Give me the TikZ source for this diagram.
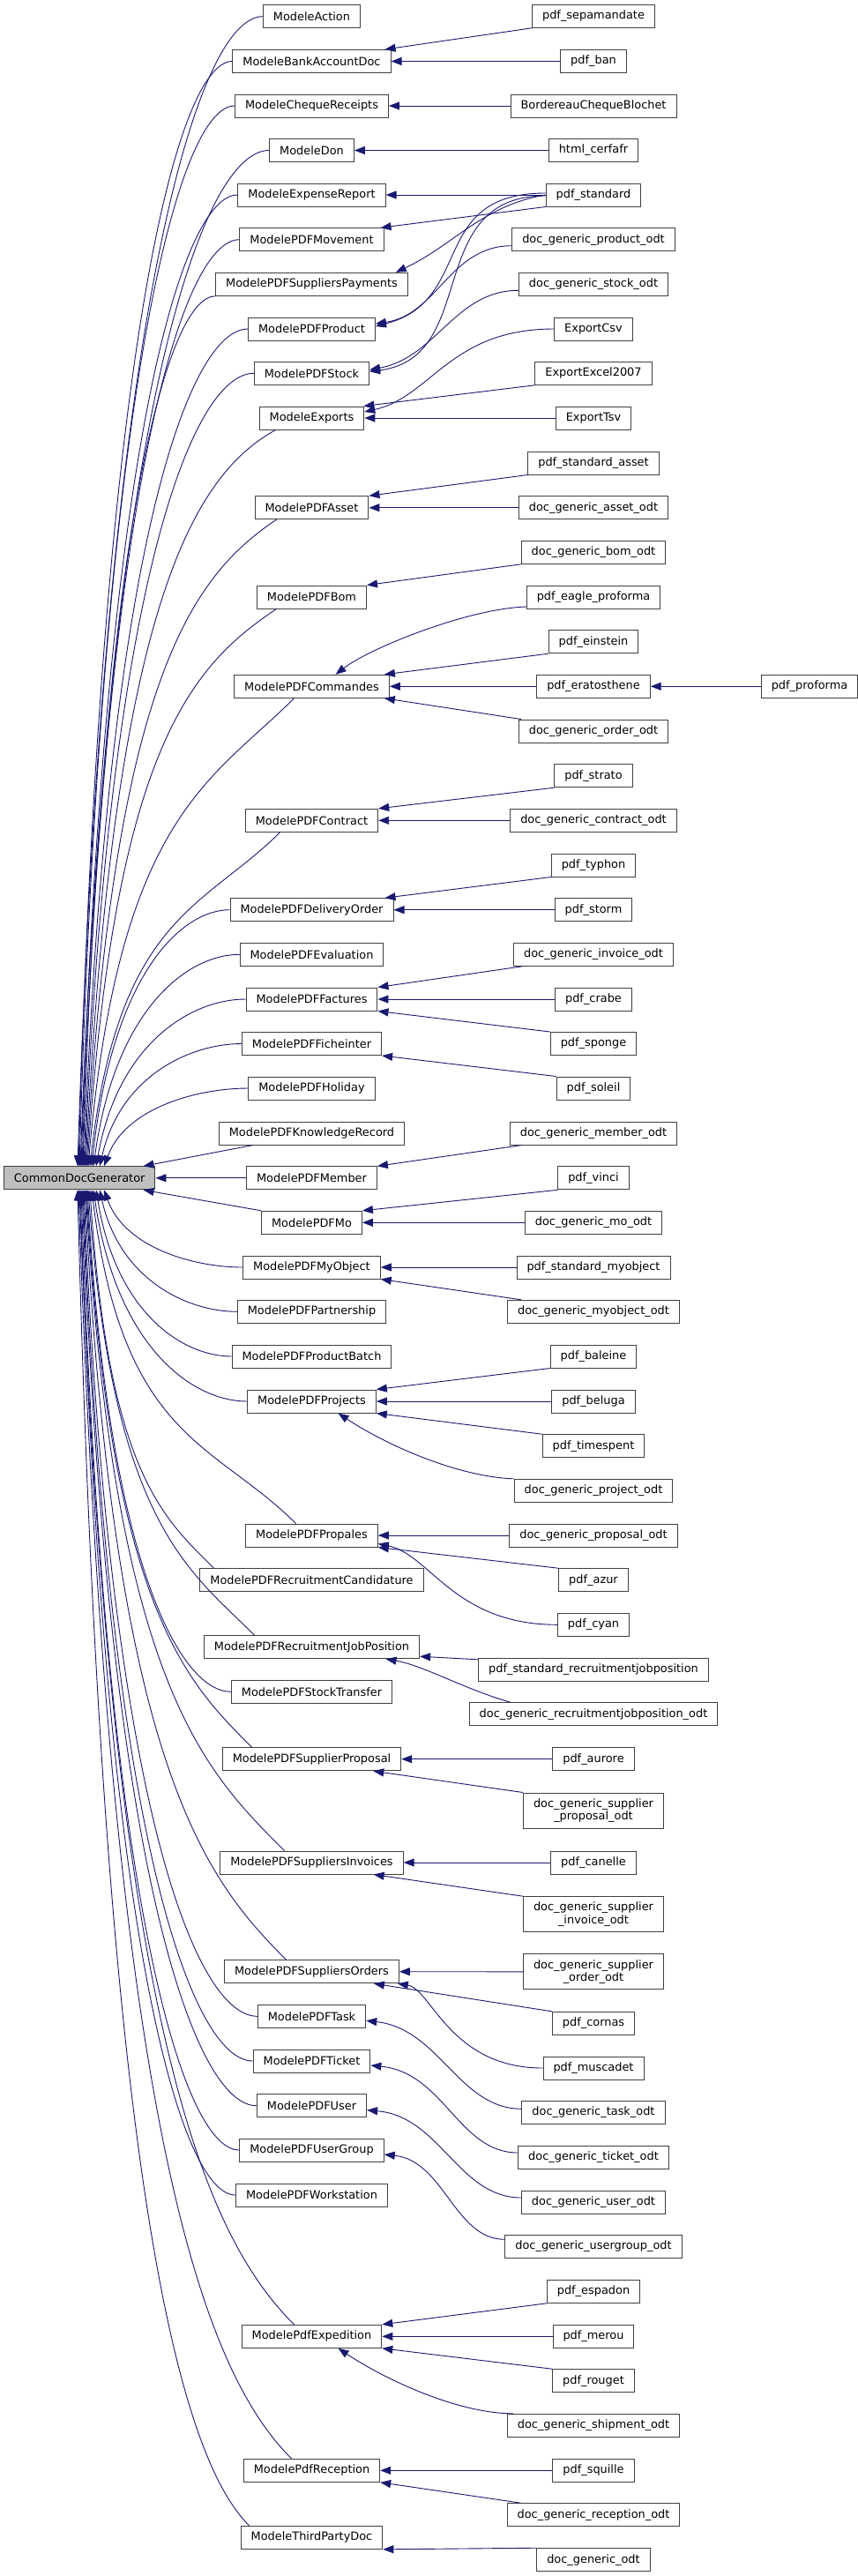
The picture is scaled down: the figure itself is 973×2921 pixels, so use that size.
\documentclass[tikz,border=0pt]{standalone}
\usepackage{fontspec}
\setmainfont{DejaVu Sans}
\usepackage{tikz}
\usetikzlibrary{arrows.meta, calc}
\definecolor{edgeblue}{RGB}{25,25,112}
\definecolor{boxline}{RGB}{64,64,64}
\definecolor{basegray}{RGB}{191,191,191}

\begin{document}
\begin{tikzpicture}[x=1pt, y=-1pt, font=\fontsize{12.9}{14.3}\selectfont,
  cls/.style={draw=boxline, line width=1pt, fill=white, inner xsep=11.5pt, inner ysep=0pt, minimum height=26pt},
  cls2/.style={cls, align=center, minimum height=40pt},
  basecls/.style={cls, fill=basegray},
  inh/.style={draw=edgeblue, line width=0.9pt, {Triangle[length=12pt,width=9pt]}-}]
  \useasboundingbox (0,0) rectangle (973,2921);

  % base class
  \node[basecls] (cdg) at (90.2,1335.8) {CommonDocGenerator};

  % direct children (middle column)
  \node[cls] (act)           at (353.5,18.7)   {ModeleAction};
  \node[cls] (bank)          at (353.5,69.5)   {ModeleBankAccountDoc};
  \node[cls] (cheque)        at (353.5,120)    {ModeleChequeReceipts};
  \node[cls] (don)           at (353.5,170.5)  {ModeleDon};
  \node[cls] (expense)       at (353.5,221)    {ModeleExpenseReport};
  \node[cls] (movement)      at (353.5,271.7)  {ModelePDFMovement};
  \node[cls] (supppay)       at (353.5,322.3)  {ModelePDFSuppliersPayments};
  \node[cls] (product)       at (353.5,373)    {ModelePDFProduct};
  \node[cls] (stock)         at (353.5,423.3)  {ModelePDFStock};
  \node[cls] (exports)       at (353.5,474)    {ModeleExports};
  \node[cls] (asset)         at (353.5,575.7)  {ModelePDFAsset};
  \node[cls] (bom)           at (353.5,677)    {ModelePDFBom};
  \node[cls] (commandes)     at (353.5,778.3)  {ModelePDFCommandes};
  \node[cls] (contract)      at (353.5,930.3)  {ModelePDFContract};
  \node[cls] (delivery)      at (353.5,1031.7) {ModelePDFDeliveryOrder};
  \node[cls] (evaluation)    at (353.5,1082.3) {ModelePDFEvaluation};
  \node[cls] (factures)      at (353.5,1133)   {ModelePDFFactures};
  \node[cls] (fiche)         at (353.5,1183.5) {ModelePDFFicheinter};
  \node[cls] (holiday)       at (353.5,1234)   {ModelePDFHoliday};
  \node[cls] (knowledge)     at (353.5,1285)   {ModelePDFKnowledgeRecord};
  \node[cls] (member)        at (353.5,1335.8) {ModelePDFMember};
  \node[cls] (mo)            at (353.5,1386.3) {ModelePDFMo};
  \node[cls] (myobject)      at (353.5,1437)   {ModelePDFMyObject};
  \node[cls] (partnership)   at (353.5,1487.3) {ModelePDFPartnership};
  \node[cls] (batch)         at (353.5,1538)   {ModelePDFProductBatch};
  \node[cls] (projects)      at (353.5,1589)   {ModelePDFProjects};
  \node[cls] (propales)      at (353.5,1741)   {ModelePDFPropales};
  \node[cls] (candidature)   at (353.5,1791.7) {ModelePDFRecruitmentCandidature};
  \node[cls] (jobpos)        at (353.5,1867.7) {ModelePDFRecruitmentJobPosition};
  \node[cls] (stocktransfer) at (353.5,1918.3) {ModelePDFStockTransfer};
  \node[cls] (supprop)       at (353.5,1994.7) {ModelePDFSupplierProposal};
  \node[cls] (suppinv)       at (353.5,2112)   {ModelePDFSuppliersInvoices};
  \node[cls] (supporders)    at (353.5,2235.7) {ModelePDFSuppliersOrders};
  \node[cls] (task)          at (353.5,2286.3) {ModelePDFTask};
  \node[cls] (ticket)        at (353.5,2337)   {ModelePDFTicket};
  \node[cls] (user)          at (353.5,2387.7) {ModelePDFUser};
  \node[cls] (usergroup)     at (353.5,2438)   {ModelePDFUserGroup};
  \node[cls] (workstation)   at (353.5,2489)   {ModelePDFWorkstation};
  \node[cls] (expedition)    at (353.5,2649.3) {ModelePdfExpedition};
  \node[cls] (reception)     at (353.5,2801.3) {ModelePdfReception};
  \node[cls] (thirdparty)    at (353.5,2877.3) {ModeleThirdPartyDoc};

  % grandchildren (right column)
  \node[cls] (sepa)        at (673,18.3)   {pdf\_sepamandate};
  \node[cls] (ban)         at (673,69.5)   {pdf\_ban};
  \node[cls] (blochet)     at (673,120)    {BordereauChequeBlochet};
  \node[cls] (cerfa)       at (673,170.5)  {html\_cerfafr};
  \node[cls] (pdfstd)      at (673,221)    {pdf\_standard};
  \node[cls] (prododt)     at (673,271.7)  {doc\_generic\_product\_odt};
  \node[cls] (stockodt)    at (673,322.3)  {doc\_generic\_stock\_odt};
  \node[cls] (csv)         at (673,373)    {ExportCsv};
  \node[cls] (excel)       at (673,423.3)  {ExportExcel2007};
  \node[cls] (tsv)         at (673,474)    {ExportTsv};
  \node[cls] (stdasset)    at (673,525)    {pdf\_standard\_asset};
  \node[cls] (assetodt)    at (673,575.7)  {doc\_generic\_asset\_odt};
  \node[cls] (bomodt)      at (673,626.3)  {doc\_generic\_bom\_odt};
  \node[cls] (eagle)       at (673,677)    {pdf\_eagle\_proforma};
  \node[cls] (einstein)    at (673,727.7)  {pdf\_einstein};
  \node[cls] (eratos)      at (673,778.3)  {pdf\_eratosthene};
  \node[cls] (orderodt)    at (673,829)    {doc\_generic\_order\_odt};
  \node[cls] (strato)      at (673,879.7)  {pdf\_strato};
  \node[cls] (contractodt) at (673,930.3)  {doc\_generic\_contract\_odt};
  \node[cls] (typhon)      at (673,981)    {pdf\_typhon};
  \node[cls] (storm)       at (673,1031.7) {pdf\_storm};
  \node[cls] (invoiceodt)  at (673,1082.3) {doc\_generic\_invoice\_odt};
  \node[cls] (crabe)       at (673,1133)   {pdf\_crabe};
  \node[cls] (sponge)      at (673,1183.5) {pdf\_sponge};
  \node[cls] (soleil)      at (673,1234)   {pdf\_soleil};
  \node[cls] (memberodt)   at (673,1285)   {doc\_generic\_member\_odt};
  \node[cls] (vinci)       at (673,1335.8) {pdf\_vinci};
  \node[cls] (moodt)       at (673,1386.3) {doc\_generic\_mo\_odt};
  \node[cls] (stdmyobj)    at (673,1437)   {pdf\_standard\_myobject};
  \node[cls] (myobjodt)    at (673,1487.3) {doc\_generic\_myobject\_odt};
  \node[cls] (baleine)     at (673,1538)   {pdf\_baleine};
  \node[cls] (beluga)      at (673,1589)   {pdf\_beluga};
  \node[cls] (timespent)   at (673,1639.7) {pdf\_timespent};
  \node[cls] (projectodt)  at (673,1690.3) {doc\_generic\_project\_odt};
  \node[cls] (proposalodt) at (673,1741)   {doc\_generic\_proposal\_odt};
  \node[cls] (azur)        at (673,1791.7) {pdf\_azur};
  \node[cls] (cyan)        at (673,1842.3) {pdf\_cyan};
  \node[cls] (stdrjp)      at (673,1893.3) {pdf\_standard\_recruitmentjobposition};
  \node[cls] (rjpodt)      at (673,1943.7) {doc\_generic\_recruitmentjobposition\_odt};
  \node[cls] (aurore)      at (673,1994.7) {pdf\_aurore};
  \node[cls2] (spodt)      at (673,2053)   {doc\_generic\_supplier\\\_proposal\_odt};
  \node[cls] (canelle)     at (673,2112)   {pdf\_canelle};
  \node[cls2] (siodt)      at (673,2170.7) {doc\_generic\_supplier\\\_invoice\_odt};
  \node[cls2] (soodt)      at (673,2235.8) {doc\_generic\_supplier\\\_order\_odt};
  \node[cls] (cornas)      at (673,2294.3) {pdf\_cornas};
  \node[cls] (muscadet)    at (673,2345)   {pdf\_muscadet};
  \node[cls] (taskodt)     at (673,2395.3) {doc\_generic\_task\_odt};
  \node[cls] (ticketodt)   at (673,2446)   {doc\_generic\_ticket\_odt};
  \node[cls] (userodt)     at (673,2497)   {doc\_generic\_user\_odt};
  \node[cls] (ugodt)       at (673,2547.3) {doc\_generic\_usergroup\_odt};
  \node[cls] (espadon)     at (673,2598.3) {pdf\_espadon};
  \node[cls] (merou)       at (673,2649.3) {pdf\_merou};
  \node[cls] (rouget)      at (673,2699.7) {pdf\_rouget};
  \node[cls] (shipodt)     at (673,2750.3) {doc\_generic\_shipment\_odt};
  \node[cls] (squille)     at (673,2801.3) {pdf\_squille};
  \node[cls] (receptodt)   at (673,2851.7) {doc\_generic\_reception\_odt};
  \node[cls] (genodt)      at (673,2902.7) {doc\_generic\_odt};
  \node[cls] (proforma)    at (918,778.3)  {pdf\_proforma};

  % children -> CommonDocGenerator (long splines)
  \foreach \nd/\an/\s/\cs/\ex/\cx/\cy in {
    act/west/0/north/88/-0.35/0, bank/west/0/north/89/-0.35/0,
    cheque/west/0/north/90/-0.35/0, don/west/0/north/91/-0.35/0,
    expense/west/0/north/92/-0.35/0, movement/west/0/north/93/-0.35/0,
    supppay/south west/0/north/94/-0.35/0, product/west/0/north/95/-0.35/0,
    stock/west/0/north/96/-0.35/0, exports/south/-41/north/97/-0.45/-0.25,
    asset/south/-40/north/98/-0.45/-0.3, bom/south/-40/north/99/-0.45/-0.3,
    commandes/south/-20/north/100/-0.4/-0.4, contract/south/-36/north/102/-0.4/-0.4,
    delivery/west/0/north/104/-0.35/0, evaluation/west/0/north/106/-0.35/0,
    factures/west/0/north/109/-0.35/0, fiche/west/0/north/113/-0.35/0,
    holiday/west/0/north/118/-0.35/0,
    myobject/west/0/south/118/-0.35/0, partnership/west/0/south/113/-0.35/0,
    batch/west/0/south/109/-0.35/0, projects/west/0/south/106/-0.35/0,
    propales/north/-18/south/104/-0.4/0.4, candidature/north/-111/south/102/-0.4/0.4,
    jobpos/north/-65/south/100/-0.4/0.4, stocktransfer/west/0/south/99/-0.35/0,
    supprop/north/-68/south/98/-0.4/0.4, suppinv/north/-31/south/97/-0.4/0.4,
    supporders/north/-29/south/96/-0.4/0.4, task/west/0/south/95/-0.35/0,
    ticket/west/0/south/94/-0.35/0, user/west/0/south/93/-0.35/0,
    usergroup/west/0/south/92/-0.35/0, workstation/west/0/south/91/-0.35/0,
    expedition/north/-20/south/90/-0.4/0.4, reception/north/-23/south/89/-0.4/0.4,
    thirdparty/north/-71/south/88/-0.4/0.4}
    \draw[inh] let \p1=([xshift=\s pt]\nd.\an), \p2=(\ex,0 |- cdg.\cs) in
      (\p2) .. controls +({0.15*(\x1-\x2)},{0.75*(\y1-\y2)})
               and +({\cx*(\x1-\x2)},{\cy*(\x1-\x2)}) .. (\p1);
  % the three short ones on the right of the base class
  \draw[inh] ([xshift=-14pt]cdg.north east) -- ([xshift=39pt]knowledge.south west);
  \draw[inh] (cdg.east) -- (member.west);
  \draw[inh] ([xshift=-14pt]cdg.south east) -- (mo.north west);

  % grandchildren, straight across
  \foreach \c/\p in {ban/bank, blochet/cheque, cerfa/don, pdfstd/expense,
    tsv/exports, assetodt/asset, eratos/commandes, proforma/eratos,
    contractodt/contract, storm/delivery, crabe/factures, moodt/mo,
    stdmyobj/myobject, beluga/projects, proposalodt/propales, aurore/supprop,
    canelle/suppinv, soodt/supporders, merou/expedition, squille/reception}
    \draw[inh] (\p.east) -- (\c.west);
  % rising to the parent's upper corner
  \foreach \c/\p/\dx/\tx in {sepa/bank/-7/0, pdfstd/movement/-4/0,
    excel/exports/-1/0, stdasset/asset/0/0, bomodt/bom/0/0,
    einstein/commandes/-6/0, strato/contract/0/0, typhon/delivery/-10/0,
    invoiceodt/factures/0/10, memberodt/member/0/14, vinci/mo/0/0,
    baleine/projects/0/0, espadon/expedition/0/0}
    \draw[inh] ([xshift=\dx pt]\p.north east) -- ([xshift=\tx pt]\c.south west);
  % falling to the parent's lower corner
  \foreach \c/\p/\dx/\tx in {orderodt/commandes/-6/3, sponge/factures/0/0,
    soleil/fiche/0/0, myobjodt/myobject/0/16, timespent/projects/0/0,
    azur/propales/0/0, spodt/supprop/-32/0, siodt/suppinv/-34/0,
    cornas/supporders/-29/0, rouget/expedition/0/0, receptodt/reception/0/16,
    genodt/thirdparty/0/0}
    \draw[inh] ([xshift=\dx pt]\p.south east) -- ([xshift=\tx pt]\c.north west);
  \draw[inh] ([yshift=3pt]jobpos.south east) -- ([yshift=-2pt]stdrjp.north west);

  % curved ones
  \draw[inh] ([xshift=-14pt]supppay.north east) .. controls +(66,-31) and +(-72,12) .. (pdfstd.west);
  \draw[inh] ([yshift=3pt]product.east) .. controls +(113,-29) and +(-134,0) .. ([yshift=2pt]pdfstd.west);
  \draw[inh] ([yshift=6pt]product.east) .. controls +(70,-10) and +(-70,0) .. ([yshift=-7pt]prododt.west);
  \draw[inh] ([yshift=2pt]stock.east) .. controls +(126,-16) and +(-140,0) .. ([yshift=-1pt]pdfstd.west);
  \draw[inh] ([yshift=4pt]stock.east) .. controls +(76,-14) and +(-72,0) .. ([yshift=-7pt]stockodt.west);
  \draw[inh] ([yshift=7pt]exports.east) .. controls +(76,-17) and +(-118,0) .. (csv.west);
  \draw[inh] ([xshift=27pt]commandes.north) .. controls +(39,-30) and +(-66,2) .. ([yshift=-11pt]eagle.west);
  \draw[inh] ([xshift=30pt]projects.south) .. controls +(56,37) and +(-62,-2) .. (projectodt.north west);
  \draw[inh] ([yshift=4pt]propales.south east) .. controls +(59,12) and +(-117,0) .. (cyan.west);
  \draw[inh] ([xshift=84pt]jobpos.south) .. controls +(42,7) and +(-50,-14) .. ([xshift=47pt]rjpodt.north west);
  \draw[inh] ([xshift=-2pt]supporders.south east) .. controls +(38,6) and +(-105,0) .. (muscadet.west);
  \draw[inh] ([yshift=-5pt]task.east) .. controls +(83,9) and +(-71,0) .. ([yshift=4pt]taskodt.west);
  \draw[inh] ([yshift=-5pt]ticket.east) .. controls +(83,8) and +(-67,0) .. ([yshift=5pt]ticketodt.west);
  \draw[inh] ([yshift=-5pt]user.east) .. controls +(83,7) and +(-71,0) .. ([yshift=5pt]userodt.west);
  \draw[inh] ([yshift=-5pt]usergroup.east) .. controls +(68,7) and +(-57,0) .. ([yshift=8pt]ugodt.west);
  \draw[inh] ([xshift=30pt]expedition.south) .. controls +(56,37) and +(-61,0) .. ([xshift=7pt]shipodt.north west);
\end{tikzpicture}
\end{document}
